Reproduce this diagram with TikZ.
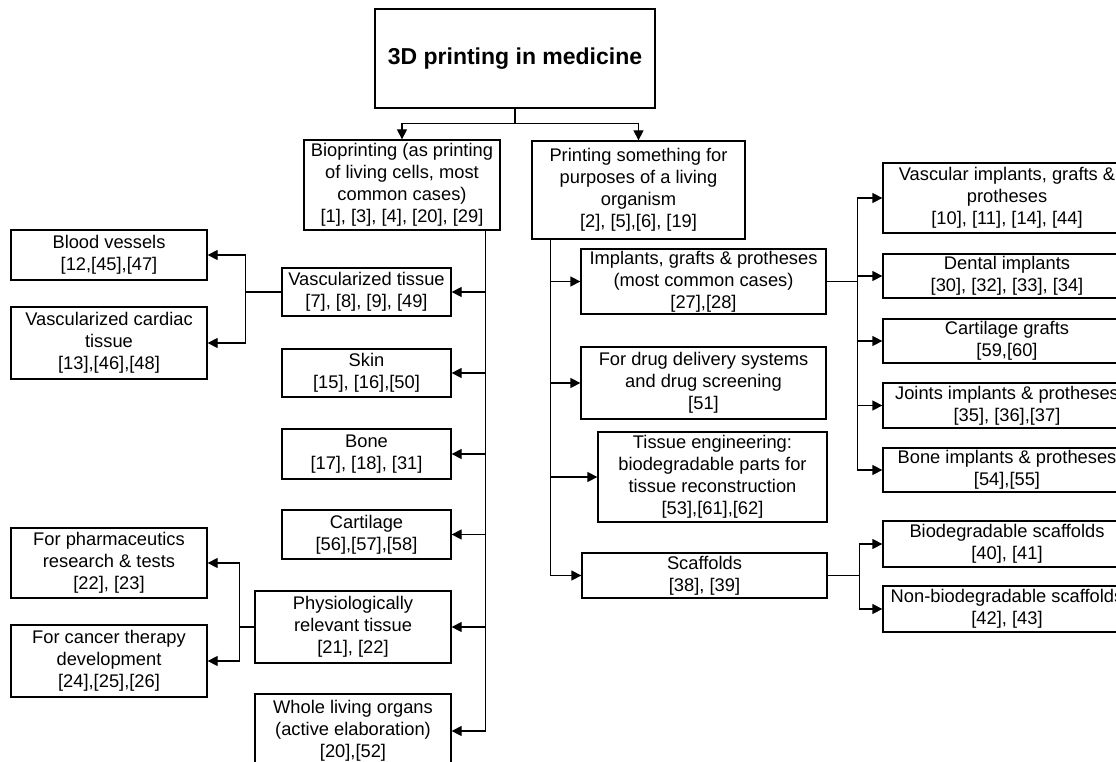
\documentclass[tikz,border=0pt]{standalone}
\usepackage{fontspec}
\setmainfont{Liberation Sans}
\usetikzlibrary{arrows.meta,calc}
\tikzset{
  box/.style={draw=black, line width=1.3pt, inner sep=0pt, align=center,
    font=\fontsize{18.3}{22}\selectfont},
  titlebox/.style={box, font=\fontsize{23}{27}\selectfont\bfseries},
  conn/.style={draw=black, line width=1.3pt},
  arr/.style={conn, -{Triangle[length=10pt,width=10pt]}}
}
\newcommand{\bx}[7][box]{\node[#1, minimum width={#5-#3}, minimum height={#6-#4}] (#2) at ({(#3+#5)/2},{(#4+#6)/2}) {#7};}
\begin{document}
\begin{tikzpicture}[x=1pt,y=-1pt]
\useasboundingbox (0,0) rectangle (1116,762);
\fill[white] (0,0) rectangle (1116,762);
\clip (0,0) rectangle (1116,762);
% top
\bx[titlebox]{title}{375}{9}{655}{108}{3D printing in medicine}
\bx{bio}{304}{140}{500}{230}{Bioprinting (as printing\\of living cells, most\\common cases)\\{}[1], [3], [4], [20], [29]}
\bx{print}{532}{141}{745}{239}{Printing something for\\purposes of a living\\organism\\{}[2], [5],[6], [19]}
% left middle column
\bx{vt}{282}{268}{451}{316}{Vascularized tissue\\{}[7], [8], [9], [49]}
\bx{skin}{282}{349}{451}{397}{Skin\\{}[15], [16],[50]}
\bx{bone}{282}{429}{451}{479}{Bone\\{}[17], [18], [31]}
\bx{cart}{282}{510}{451}{559}{Cartilage\\{}[56],[57],[58]}
\bx{phys}{255}{591}{451}{663}{Physiologically\\relevant tissue\\{}[21], [22]}
\bx{whole}{255}{694}{451}{768}{Whole living organs\\(active elaboration)\\{}[20],[52]}
% far left
\bx{blood}{11}{230}{207}{280}{Blood vessels\\{}[12,[45],[47]}
\bx{card}{11}{307}{207}{379}{Vascularized cardiac\\tissue\\{}[13],[46],[48]}
\bx{pharm}{11}{528}{207}{598}{For pharmaceutics\\research \& tests\\{}[22], [23]}
\bx{canc}{11}{625}{207}{697}{For cancer therapy\\development\\{}[24],[25],[26]}
% right middle column
\bx{imp}{581}{249}{826}{314}{Implants, grafts \& protheses\\(most common cases)\\{}[27],[28]}
\bx{drug}{581}{347}{826}{419}{For drug delivery systems\\and drug screening\\{}[51]}
\bx{te}{598}{432}{827}{522}{Tissue engineering:\\biodegradable parts for\\tissue reconstruction\\{}[53],[61],[62]}
\bx{scaf}{582}{553}{827}{598}{Scaffolds\\{}[38], [39]}
% far right
\bx{vimp}{883}{163}{1131}{233}{Vascular implants, grafts \&\\protheses\\{}[10], [11], [14], [44]}
\bx{dent}{883}{254}{1131}{298}{Dental implants\\{}[30], [32], [33], [34]}
\bx{cg}{883}{319}{1131}{363}{Cartilage grafts\\{}[59,[60]}
\bx{joint}{883}{383}{1131}{428}{Joints implants \& protheses\\{}[35], [36],[37]}
\bx{bimp}{883}{448}{1131}{492}{Bone implants \& protheses\\{}[54],[55]}
\bx{bio2}{883}{521}{1131}{567}{Biodegradable scaffolds\\{}[40], [41]}
\bx{nbio}{883}{586}{1131}{632}{Non-biodegradable scaffolds\\{}[42], [43]}
% connectors from title
\draw[arr] (title.south) -- ++(0,15) -| (bio.north);
\draw[arr] (title.south) -- ++(0,15) -| (print.north);
% left trunk
\foreach \t in {vt,skin,bone,cart,phys,whole}
  \draw[arr] ($(bio.south east)+(-15,0)$) |- (\t.east);
\foreach \t in {blood,card}
  \draw[arr] (vt.west) -- ++(-36,0) |- (\t.east);
\foreach \t in {pharm,canc}
  \draw[arr] (phys.west) -- ++(-15,0) |- (\t.east);
% right trunk
\foreach \t in {imp,drug,te,scaf}
  \draw[arr] ($(print.south west)+(19,0)$) |- (\t.west);
\foreach \t in {vimp,dent,cg,joint,bimp}
  \draw[arr] (imp.east) -- ++(31,0) |- (\t.west);
\foreach \t in {bio2,nbio}
  \draw[arr] (scaf.east) -- ++(32,0) |- (\t.west);
\end{tikzpicture}
\end{document}
